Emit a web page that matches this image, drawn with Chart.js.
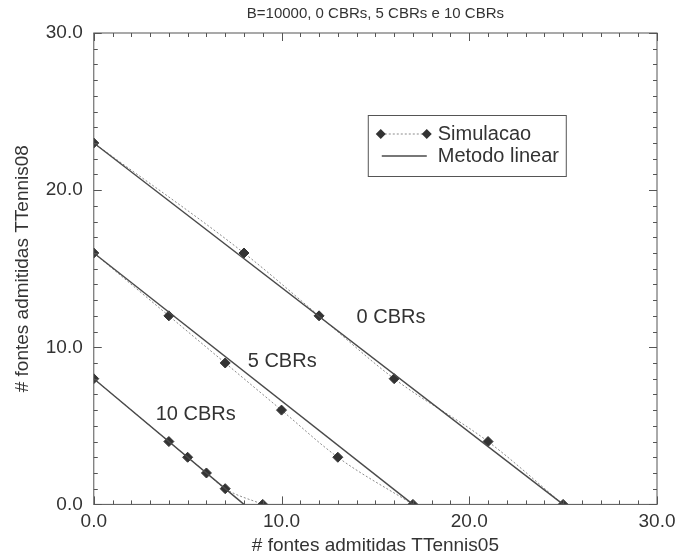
<!DOCTYPE html>
<html>
<head>
<meta charset="utf-8">
<script src="https://cdn.jsdelivr.net/npm/chart.js@4.4.1/dist/chart.umd.min.js"></script>
<style>
  html, body { margin: 0; padding: 0; background: #fff; }
  #wrap { width: 675px; height: 559px; position: relative; }
</style>
</head>
<body>
<div id="wrap"><canvas id="chart"></canvas></div>
<script>
// simulation points
var sim0X  = [0, 8, 12, 16, 21, 25];
var sim0Y  = [23, 16, 12, 8, 4, 0];
var sim5X  = [0, 4, 7, 10, 13, 17];
var sim5Y  = [16, 12, 9, 6, 3, 0];
var sim10X = [0, 4, 5, 6, 7, 9];
var sim10Y = [8, 4, 3, 2, 1, 0];

// linear method end points
var lin0X  = [0, 25];
var lin0Y  = [23, 0];
var lin5X  = [0, 17];
var lin5Y  = [16, 0];
var lin10X = [0, 8];
var lin10Y = [8, 0];

var xTicks = [0, 10, 20, 30];
var yTicks = [0, 10, 20, 30];

var seriesNames = ['Simulacao', 'Metodo linear'];
var curveLabels = ['0 CBRs', '5 CBRs', '10 CBRs'];
var curveLabelPos = [[14.0, 11.9], [8.2, 9.1], [3.3, 5.7]];

var chartTitle = 'B=10000, 0 CBRs, 5 CBRs e 10 CBRs';
var xTitle = '# fontes admitidas TTennis05';
var yTitle = '# fontes admitidas TTennis08';

(function(Chart) {
  'use strict';

  var FONT = "'Liberation Sans', Helvetica, Arial, sans-serif";
  var INK = '#333';
  var LINE = '#4a4a4a';
  var DOTS = '#8a8a8a';

  function pts(xs, ys) {
    return xs.map(function(x, i) { return { x: x, y: ys[i] }; });
  }

  function linear(xs, ys) {
    return {
      label: seriesNames[1],
      data: pts(xs, ys),
      borderColor: LINE,
      borderWidth: 1.4,
      pointRadius: 0,
      fill: false
    };
  }

  function simulation(xs, ys) {
    return {
      label: seriesNames[0],
      data: pts(xs, ys),
      borderColor: DOTS,
      borderWidth: 1,
      borderDash: [2, 2],
      cubicInterpolationMode: 'monotone',
      pointStyle: 'rectRot',
      pointRadius: 5,
      pointBackgroundColor: INK,
      pointBorderColor: INK,
      pointBorderWidth: 1,
      fill: false
    };
  }

  // box, inward ticks, title, legend and curve labels
  var decor = {
    id: 'decor',
    afterDraw: function(chart) {
      var ctx = chart.ctx;
      var a = chart.chartArea;
      var xs = chart.scales.x;
      var ys = chart.scales.y;
      var v, p, len;

      ctx.save();
      ctx.strokeStyle = '#555';
      ctx.lineWidth = 1;
      ctx.strokeRect(a.left, a.top, a.right - a.left, a.bottom - a.top);

      ctx.beginPath();
      for (v = xs.min; v <= xs.max; v++) {
        p = Math.round(xs.getPixelForValue(v)) + 0.5;
        len = v % 10 === 0 ? 8 : 4;
        ctx.moveTo(p, a.bottom); ctx.lineTo(p, a.bottom - len);
        ctx.moveTo(p, a.top);    ctx.lineTo(p, a.top + len);
      }
      for (v = ys.min; v <= ys.max; v++) {
        p = Math.round(ys.getPixelForValue(v)) + 0.5;
        len = v % 10 === 0 ? 8 : 4;
        ctx.moveTo(a.left, p);  ctx.lineTo(a.left + len, p);
        ctx.moveTo(a.right, p); ctx.lineTo(a.right - len, p);
      }
      ctx.stroke();

      // title, centred over the plot box
      ctx.fillStyle = INK;
      ctx.font = '15px ' + FONT;
      ctx.textAlign = 'center';
      ctx.textBaseline = 'middle';
      ctx.fillText(chartTitle, (a.left + a.right) / 2, 14);

      // labels next to each family of curves
      ctx.font = '20px ' + FONT;
      ctx.textAlign = 'left';
      curveLabels.forEach(function(txt, i) {
        ctx.fillText(txt, xs.getPixelForValue(curveLabelPos[i][0]), ys.getPixelForValue(curveLabelPos[i][1]));
      });

      // legend box
      var bx = a.left + 274, by = a.top + 82;
      ctx.strokeStyle = '#555';
      ctx.strokeRect(bx + 0.5, by + 0.5, 198, 61);

      var r1 = by + 19, r2 = by + 41;
      ctx.strokeStyle = DOTS;
      ctx.setLineDash([2, 2]);
      ctx.beginPath();
      ctx.moveTo(bx + 13, r1); ctx.lineTo(bx + 59, r1);
      ctx.stroke();
      ctx.setLineDash([]);
      [bx + 13, bx + 59].forEach(function(mx) {
        ctx.fillStyle = INK;
        ctx.beginPath();
        ctx.moveTo(mx, r1 - 5); ctx.lineTo(mx + 5, r1);
        ctx.lineTo(mx, r1 + 5); ctx.lineTo(mx - 5, r1);
        ctx.closePath();
        ctx.fill();
      });

      ctx.strokeStyle = LINE;
      ctx.lineWidth = 1.4;
      ctx.beginPath();
      ctx.moveTo(bx + 14, r2); ctx.lineTo(bx + 59, r2);
      ctx.stroke();

      ctx.fillStyle = INK;
      ctx.fillText(seriesNames[0], bx + 70, r1);
      ctx.fillText(seriesNames[1], bx + 70, r2);
      ctx.restore();
    }
  };

  function axis(ticks, title, titlePad, tickPad) {
    return {
      type: 'linear',
      min: ticks[0],
      max: ticks[ticks.length - 1],
      afterBuildTicks: function(scale) {
        scale.ticks = ticks.map(function(t) { return { value: t }; });
      },
      grid: { display: false, drawTicks: false },
      border: { display: false },
      ticks: {
        color: INK,
        padding: tickPad,
        font: { family: FONT, size: 19 },
        callback: function(v) { return Number(v).toFixed(1); }
      },
      title: {
        display: true,
        text: title,
        color: INK,
        padding: titlePad,
        font: { family: FONT, size: 19 }
      }
    };
  }

  var xAxis = axis(xTicks, xTitle, { top: -5, bottom: 0 }, 6);
  // the last x label hangs off the page in the original, so don't reserve room for it
  xAxis.afterFit = function(scale) {
    scale.paddingRight = 0;
  };

  new Chart(document.getElementById('chart'), {
    type: 'line',
    data: {
      datasets: [
        linear(lin0X, lin0Y),
        linear(lin5X, lin5Y),
        linear(lin10X, lin10Y),
        simulation(sim0X, sim0Y),
        simulation(sim5X, sim5Y),
        simulation(sim10X, sim10Y)
      ]
    },
    options: {
      responsive: true,
      maintainAspectRatio: false,
      animation: false,
      layout: { padding: { top: 33, right: 18, bottom: 2, left: 11 } },
      plugins: {
        legend: { display: false },
        title: { display: false },
        tooltip: { enabled: false }
      },
      scales: {
        x: xAxis,
        y: axis(yTicks, yTitle, { top: 0, bottom: 1 }, 11)
      }
    },
    plugins: [decor]
  });

}(Chart));
</script>
</body>
</html>
